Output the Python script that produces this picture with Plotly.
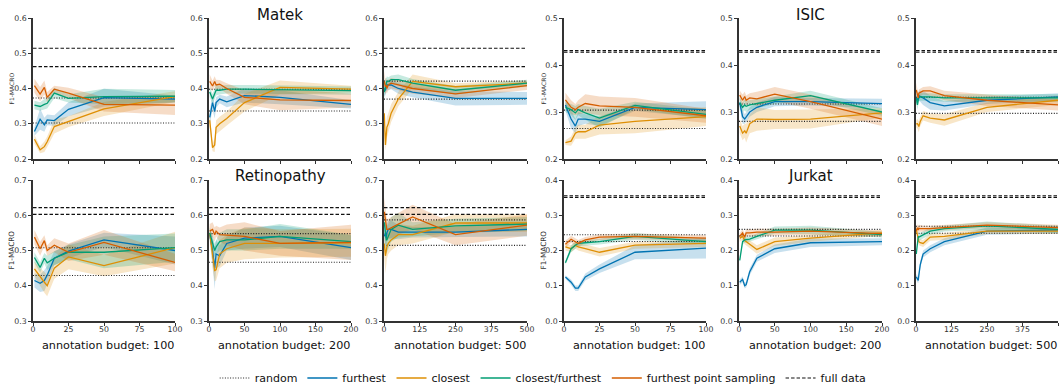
import plotly.graph_objects as go

# ---------------- data ----------------
x_100 = [1, 5, 8, 10, 15, 25, 50, 100]
x_200 = [1, 5, 8, 10, 15, 25, 50, 100, 200]
x_500 = [1, 5, 8, 10, 15, 25, 50, 100, 250, 500]

methods = ["furthest", "closest", "closest/furthest", "furthest point sampling"]
colors = {"furthest": "#0173b2", "closest": "#de8f05",
          "closest/furthest": "#029e73", "furthest point sampling": "#d55e00"}
fills = {"furthest": "rgba(1,115,178,0.22)", "closest": "rgba(222,143,5,0.22)",
         "closest/furthest": "rgba(2,158,115,0.22)", "furthest point sampling": "rgba(213,94,0,0.22)"}

# Matek
matek_100 = {"furthest": [0.278, 0.313, 0.297, 0.311, 0.309, 0.341, 0.374, 0.370],
             "closest": [0.256, 0.226, 0.235, 0.249, 0.292, 0.306, 0.342, 0.377],
             "closest/furthest": [0.353, 0.349, 0.355, 0.358, 0.387, 0.372, 0.377, 0.378],
             "furthest point sampling": [0.408, 0.384, 0.403, 0.375, 0.398, 0.387, 0.355, 0.353]}
matek_100_std = {"furthest": [0.012, 0.03, 0.02, 0.015, 0.015, 0.02, 0.025, 0.01],
                 "closest": [0.012, 0.01, 0.015, 0.015, 0.02, 0.015, 0.02, 0.015],
                 "closest/furthest": [0.012, 0.012, 0.015, 0.015, 0.015, 0.012, 0.022, 0.018],
                 "furthest point sampling": [0.02, 0.02, 0.02, 0.015, 0.01, 0.015, 0.02, 0.028]}
matek_200 = {"furthest": [0.318, 0.36, 0.335, 0.36, 0.37, 0.362, 0.38, 0.375, 0.355],
             "closest": [0.31, 0.232, 0.24, 0.29, 0.30, 0.315, 0.36, 0.403, 0.398],
             "closest/furthest": [0.39, 0.37, 0.385, 0.395, 0.395, 0.398, 0.398, 0.397, 0.394],
             "furthest point sampling": [0.42, 0.407, 0.42, 0.41, 0.412, 0.40, 0.375, 0.368, 0.366]}
matek_200_std = {"furthest": [0.02, 0.02, 0.02, 0.015, 0.012, 0.015, 0.02, 0.02, 0.012],
                 "closest": [0.02, 0.01, 0.02, 0.02, 0.02, 0.02, 0.025, 0.02, 0.01],
                 "closest/furthest": [0.015, 0.015, 0.015, 0.015, 0.012, 0.012, 0.012, 0.012, 0.012],
                 "furthest point sampling": [0.02, 0.015, 0.015, 0.015, 0.012, 0.015, 0.02, 0.03, 0.02]}
matek_500 = {"furthest": [0.40, 0.395, 0.405, 0.41, 0.41, 0.41, 0.40, 0.39, 0.372, 0.372],
             "closest": [0.33, 0.24, 0.27, 0.29, 0.30, 0.33, 0.37, 0.42, 0.405, 0.415],
             "closest/furthest": [0.39, 0.41, 0.415, 0.42, 0.42, 0.425, 0.425, 0.415, 0.395, 0.415],
             "furthest point sampling": [0.42, 0.405, 0.41, 0.40, 0.41, 0.415, 0.41, 0.40, 0.385, 0.408]}
matek_500_std = {"furthest": [0.02, 0.015, 0.015, 0.015, 0.015, 0.012, 0.015, 0.015, 0.02, 0.018],
                 "closest": [0.03, 0.015, 0.03, 0.03, 0.03, 0.025, 0.02, 0.02, 0.01, 0.008],
                 "closest/furthest": [0.02, 0.02, 0.015, 0.015, 0.012, 0.012, 0.015, 0.012, 0.012, 0.01],
                 "furthest point sampling": [0.03, 0.02, 0.02, 0.015, 0.015, 0.015, 0.015, 0.015, 0.012, 0.012]}

# ISIC
isic_100 = {"furthest": [0.315, 0.285, 0.27, 0.285, 0.285, 0.28, 0.31, 0.305],
            "closest": [0.235, 0.238, 0.255, 0.258, 0.258, 0.272, 0.28, 0.29],
            "closest/furthest": [0.31, 0.305, 0.298, 0.305, 0.298, 0.287, 0.314, 0.295],
            "furthest point sampling": [0.326, 0.31, 0.305, 0.31, 0.318, 0.313, 0.31, 0.292]}
isic_100_std = {"furthest": [0.012, 0.02, 0.015, 0.015, 0.01, 0.01, 0.008, 0.018],
                "closest": [0.005, 0.01, 0.012, 0.015, 0.015, 0.02, 0.025, 0.02],
                "closest/furthest": [0.01, 0.012, 0.015, 0.012, 0.015, 0.02, 0.008, 0.01],
                "furthest point sampling": [0.015, 0.015, 0.012, 0.015, 0.02, 0.02, 0.02, 0.015]}
isic_200 = {"furthest": [0.32, 0.29, 0.285, 0.29, 0.30, 0.31, 0.322, 0.322, 0.318],
            "closest": [0.27, 0.255, 0.26, 0.255, 0.275, 0.285, 0.284, 0.285, 0.298],
            "closest/furthest": [0.32, 0.31, 0.315, 0.312, 0.315, 0.318, 0.325, 0.335, 0.30],
            "furthest point sampling": [0.336, 0.325, 0.333, 0.325, 0.33, 0.328, 0.338, 0.322, 0.285]}
isic_200_std = {"furthest": [0.01, 0.015, 0.01, 0.01, 0.01, 0.01, 0.01, 0.008, 0.01],
                "closest": [0.015, 0.015, 0.015, 0.02, 0.02, 0.025, 0.02, 0.02, 0.01],
                "closest/furthest": [0.012, 0.01, 0.012, 0.012, 0.01, 0.01, 0.008, 0.01, 0.008],
                "furthest point sampling": [0.01, 0.012, 0.01, 0.01, 0.01, 0.015, 0.015, 0.015, 0.015]}
isic_500 = {"furthest": [0.33, 0.325, 0.33, 0.335, 0.333, 0.33, 0.32, 0.313, 0.325, 0.332],
            "closest": [0.275, 0.275, 0.272, 0.269, 0.28, 0.292, 0.287, 0.283, 0.31, 0.325],
            "closest/furthest": [0.33, 0.315, 0.325, 0.33, 0.332, 0.332, 0.332, 0.33, 0.33, 0.33],
            "furthest point sampling": [0.347, 0.335, 0.33, 0.34, 0.342, 0.345, 0.345, 0.335, 0.325, 0.315]}
isic_500_std = {"furthest": [0.01, 0.01, 0.008, 0.01, 0.012, 0.015, 0.015, 0.01, 0.008, 0.008],
                "closest": [0.008, 0.01, 0.01, 0.012, 0.01, 0.01, 0.01, 0.012, 0.01, 0.01],
                "closest/furthest": [0.01, 0.01, 0.008, 0.008, 0.008, 0.008, 0.008, 0.008, 0.008, 0.008],
                "furthest point sampling": [0.015, 0.01, 0.008, 0.008, 0.008, 0.008, 0.01, 0.01, 0.012, 0.012]}

# Retinopathy
retino_100 = {"furthest": [0.415, 0.407, 0.415, 0.43, 0.478, 0.498, 0.53, 0.50],
              "closest": [0.448, 0.425, 0.41, 0.40, 0.45, 0.482, 0.457, 0.508],
              "closest/furthest": [0.48, 0.452, 0.478, 0.465, 0.478, 0.495, 0.495, 0.508],
              "furthest point sampling": [0.538, 0.505, 0.528, 0.50, 0.515, 0.495, 0.523, 0.466]}
retino_100_std = {"furthest": [0.02, 0.025, 0.03, 0.025, 0.02, 0.02, 0.02, 0.04],
                  "closest": [0.02, 0.025, 0.03, 0.03, 0.03, 0.035, 0.03, 0.045],
                  "closest/furthest": [0.015, 0.015, 0.015, 0.02, 0.02, 0.02, 0.045, 0.04],
                  "furthest point sampling": [0.02, 0.02, 0.015, 0.015, 0.02, 0.025, 0.035, 0.025]}
retino_200 = {"furthest": [0.545, 0.50, 0.45, 0.49, 0.485, 0.52, 0.535, 0.54, 0.508],
              "closest": [0.55, 0.49, 0.443, 0.445, 0.49, 0.505, 0.52, 0.52, 0.522],
              "closest/furthest": [0.55, 0.525, 0.50, 0.51, 0.525, 0.53, 0.53, 0.54, 0.525],
              "furthest point sampling": [0.555, 0.56, 0.545, 0.555, 0.545, 0.544, 0.54, 0.52, 0.523]}
retino_200_std = {"furthest": [0.015, 0.04, 0.06, 0.04, 0.03, 0.02, 0.03, 0.03, 0.035],
                  "closest": [0.02, 0.04, 0.03, 0.03, 0.04, 0.04, 0.045, 0.04, 0.04],
                  "closest/furthest": [0.015, 0.02, 0.02, 0.02, 0.025, 0.03, 0.03, 0.035, 0.02],
                  "furthest point sampling": [0.02, 0.02, 0.02, 0.015, 0.02, 0.03, 0.04, 0.035, 0.05]}
retino_500 = {"furthest": [0.54, 0.55, 0.535, 0.55, 0.56, 0.56, 0.552, 0.552, 0.552, 0.56],
              "closest": [0.52, 0.485, 0.50, 0.51, 0.52, 0.53, 0.545, 0.545, 0.578, 0.578],
              "closest/furthest": [0.58, 0.545, 0.53, 0.53, 0.54, 0.56, 0.572, 0.56, 0.57, 0.575],
              "furthest point sampling": [0.61, 0.59, 0.58, 0.56, 0.56, 0.565, 0.575, 0.595, 0.545, 0.572]}
retino_500_std = {"furthest": [0.03, 0.03, 0.03, 0.025, 0.025, 0.025, 0.02, 0.015, 0.015, 0.02],
                  "closest": [0.04, 0.05, 0.04, 0.035, 0.03, 0.03, 0.03, 0.025, 0.025, 0.025],
                  "closest/furthest": [0.03, 0.035, 0.04, 0.04, 0.035, 0.035, 0.035, 0.02, 0.02, 0.02],
                  "furthest point sampling": [0.04, 0.03, 0.03, 0.03, 0.03, 0.03, 0.03, 0.035, 0.03, 0.03]}

# Jurkat
jurkat_100 = {"furthest": [0.125, 0.11, 0.093, 0.093, 0.125, 0.148, 0.195, 0.207],
              "closest": [0.21, 0.205, 0.215, 0.21, 0.205, 0.195, 0.215, 0.22],
              "closest/furthest": [0.165, 0.205, 0.215, 0.22, 0.222, 0.225, 0.24, 0.225],
              "furthest point sampling": [0.218, 0.232, 0.225, 0.22, 0.23, 0.238, 0.24, 0.235]}
jurkat_100_std = {"furthest": [0.005, 0.008, 0.008, 0.008, 0.01, 0.012, 0.02, 0.03],
                  "closest": [0.01, 0.01, 0.01, 0.01, 0.012, 0.012, 0.01, 0.01],
                  "closest/furthest": [0.005, 0.01, 0.01, 0.008, 0.008, 0.008, 0.01, 0.008],
                  "furthest point sampling": [0.01, 0.01, 0.01, 0.01, 0.008, 0.008, 0.008, 0.008]}
jurkat_200 = {"furthest": [0.11, 0.118, 0.10, 0.103, 0.14, 0.178, 0.205, 0.222, 0.225],
              "closest": [0.235, 0.24, 0.228, 0.225, 0.218, 0.203, 0.225, 0.235, 0.25],
              "closest/furthest": [0.172, 0.225, 0.23, 0.23, 0.232, 0.24, 0.258, 0.258, 0.245],
              "furthest point sampling": [0.24, 0.25, 0.238, 0.25, 0.25, 0.252, 0.252, 0.255, 0.248]}
jurkat_200_std = {"furthest": [0.008, 0.008, 0.008, 0.008, 0.01, 0.01, 0.012, 0.012, 0.01],
                  "closest": [0.01, 0.01, 0.01, 0.01, 0.01, 0.012, 0.012, 0.01, 0.008],
                  "closest/furthest": [0.005, 0.008, 0.008, 0.008, 0.008, 0.008, 0.01, 0.012, 0.008],
                  "furthest point sampling": [0.01, 0.01, 0.01, 0.01, 0.01, 0.01, 0.01, 0.01, 0.008]}
jurkat_500 = {"furthest": [0.125, 0.12, 0.115, 0.13, 0.16, 0.19, 0.205, 0.225, 0.255, 0.258],
              "closest": [0.26, 0.245, 0.23, 0.225, 0.222, 0.22, 0.238, 0.24, 0.255, 0.255],
              "closest/furthest": [0.19, 0.235, 0.24, 0.238, 0.24, 0.245, 0.255, 0.262, 0.27, 0.26],
              "furthest point sampling": [0.255, 0.265, 0.258, 0.263, 0.262, 0.262, 0.262, 0.265, 0.272, 0.265]}
jurkat_500_std = {"furthest": [0.008, 0.01, 0.008, 0.008, 0.01, 0.01, 0.01, 0.01, 0.01, 0.01],
                  "closest": [0.01, 0.01, 0.01, 0.01, 0.01, 0.01, 0.01, 0.01, 0.008, 0.008],
                  "closest/furthest": [0.01, 0.01, 0.01, 0.01, 0.01, 0.01, 0.01, 0.008, 0.012, 0.01],
                  "furthest point sampling": [0.01, 0.01, 0.01, 0.01, 0.01, 0.008, 0.008, 0.008, 0.008, 0.008]}

# horizontal reference levels (two lines each)
random_levels = [[0.302, 0.373], [0.336, 0.398], [0.370, 0.421],
                 [0.265, 0.304], [0.280, 0.317], [0.297, 0.3315],
                 [0.429, 0.508], [0.4665, 0.548], [0.5146, 0.587],
                 [0.2256, 0.2445], [0.241, 0.260], [0.249, 0.269]]
full_levels = [[0.462, 0.514]] * 3 + [[0.4275, 0.431]] * 3 + \
              [[0.6026, 0.6215]] * 3 + [[0.3507, 0.3555]] * 3

y_ranges = [[0.2, 0.6]] * 3 + [[0.2, 0.5]] * 3 + [[0.3, 0.7]] * 3 + [[0.0, 0.4]] * 3
budgets = [100, 200, 500]
x_tick_vals = {100: [0, 25, 50, 75, 100], 200: [0, 50, 100, 150, 200], 500: [0, 125, 250, 375, 500]}
titles = {"Matek": (1, 0), "ISIC": (4, 0), "Retinopathy": (1, 1), "Jurkat": (4, 1)}

panels = [(x_100, matek_100, matek_100_std), (x_200, matek_200, matek_200_std), (x_500, matek_500, matek_500_std),
          (x_100, isic_100, isic_100_std), (x_200, isic_200, isic_200_std), (x_500, isic_500, isic_500_std),
          (x_100, retino_100, retino_100_std), (x_200, retino_200, retino_200_std), (x_500, retino_500, retino_500_std),
          (x_100, jurkat_100, jurkat_100_std), (x_200, jurkat_200, jurkat_200_std), (x_500, jurkat_500, jurkat_500_std)]

# ---------------- layout geometry ----------------
W, H = 1063, 387
cols_px = [(33, 175), (209, 351), (384, 527), (564, 706), (739, 882), (916, 1058)]
rows_px = [(18, 159), (180, 321)]
FONT = "DejaVu Sans"
AX = "#333333"

fig = go.Figure()
layout = dict(width=W, height=H, autosize=False, margin=dict(l=0, r=0, t=0, b=0, autoexpand=False),
              plot_bgcolor="white", paper_bgcolor="white",
              font=dict(family=FONT, color="#222"), showlegend=True)

for p, (xs, means, stds) in enumerate(panels):
    group = p // 3          # 0 matek,1 isic,2 retino,3 jurkat
    within = p % 3
    row = 0 if group in (0, 1) else 1
    col = within + (3 if group in (1, 3) else 0)
    k = p + 1
    xa = "x" if k == 1 else f"x{k}"
    ya = "y" if k == 1 else f"y{k}"
    budget = budgets[within]
    first = (p == 0)

    for m in methods:
        up = [a + s for a, s in zip(means[m], stds[m])]
        lo = [a - s for a, s in zip(means[m], stds[m])]
        fig.add_trace(go.Scatter(x=xs + xs[::-1], y=up + lo[::-1], fill="toself",
                                 fillcolor=fills[m], line=dict(width=0), mode="lines",
                                 hoverinfo="skip", showlegend=False, xaxis=xa, yaxis=ya))
    for j, v in enumerate(random_levels[p]):
        fig.add_trace(go.Scatter(x=[0, budget], y=[v, v], mode="lines",
                                 line=dict(color="#222", width=1.1, dash="1px,1.6px"),
                                 name="random", legendrank=1,
                                 showlegend=(first and j == 0), xaxis=xa, yaxis=ya))
    for j, v in enumerate(full_levels[p]):
        fig.add_trace(go.Scatter(x=[0, budget], y=[v, v], mode="lines",
                                 line=dict(color="#111", width=1.1, dash="3.5px,2px"),
                                 name="full data", legendrank=6,
                                 showlegend=(first and j == 0), xaxis=xa, yaxis=ya))
    for r, m in enumerate(methods):
        fig.add_trace(go.Scatter(x=xs, y=means[m], mode="lines",
                                 line=dict(color=colors[m], width=1.3),
                                 name=m, legendrank=r + 2, showlegend=first,
                                 xaxis=xa, yaxis=ya))

    x0, x1 = cols_px[col]
    y0, y1 = rows_px[row]
    xkey = "xaxis" if k == 1 else f"xaxis{k}"
    ykey = "yaxis" if k == 1 else f"yaxis{k}"
    layout[xkey] = dict(domain=[x0 / W, x1 / W], anchor=ya, range=[0, budget], automargin=False,
                        tickvals=x_tick_vals[budget], showticklabels=(row == 1),
                        ticklabelstandoff=-3,
                        showline=True, linecolor=AX, linewidth=1.5, ticks="outside",
                        ticklen=3, tickwidth=1, tickcolor=AX, showgrid=False, zeroline=False,
                        tickfont=dict(size=7.8, color="#333", family=FONT))
    yr = y_ranges[p]
    layout[ykey] = dict(domain=[1 - y1 / H, 1 - y0 / H], anchor=xa, range=yr, automargin=False,
                        tickvals=[round(yr[0] + 0.1 * i, 1) for i in range(5)],
                        tickformat=".1f", showline=True, linecolor=AX, linewidth=1.5,
                        ticks="outside", ticklen=3, tickwidth=1, tickcolor=AX,
                        showgrid=False, zeroline=False,
                        tickfont=dict(size=7.8, color="#333", family=FONT))

annotations = []
title_y = {0: 15, 1: 176}
for name, (col, row) in titles.items():
    cx = (cols_px[col][0] + cols_px[col][1]) / 2
    annotations.append(dict(text=name, x=cx / W, y=1 - title_y[row] / H, xref="paper", yref="paper",
                            xanchor="center", yanchor="middle", showarrow=False,
                            font=dict(size=15, family=FONT, color="#111")))
for col in range(6):
    cx = (cols_px[col][0] + cols_px[col][1]) / 2 + 4
    annotations.append(dict(text=f"annotation budget: {budgets[col % 3]}", x=cx / W, y=1 - 345 / H,
                            xref="paper", yref="paper", xanchor="center", yanchor="middle",
                            showarrow=False, font=dict(size=11.2, family=FONT, color="#111")))
for col, xl in ((0, 11), (3, 543)):
    for row, fs in ((0, 6), (1, 7.3)):
        cy = (rows_px[row][0] + rows_px[row][1]) / 2
        annotations.append(dict(text="F1-MACRO", x=xl / W, y=1 - cy / H, xref="paper", yref="paper",
                                xanchor="center", yanchor="middle", textangle=-90, showarrow=False,
                                font=dict(size=fs, family=FONT, color="#333")))
layout["annotations"] = annotations
layout["legend"] = dict(orientation="h", x=0.511, xanchor="center", y=1 - 378 / H, yanchor="middle",
                        font=dict(size=11, family=FONT, color="#111"), itemwidth=30,
                        bgcolor="rgba(0,0,0,0)", traceorder="normal")

fig.update_layout(**layout)
fig.write_html("out.html", config={"displayModeBar": False},
               post_script="document.body.style.margin='0px';document.body.style.overflow='hidden';")
